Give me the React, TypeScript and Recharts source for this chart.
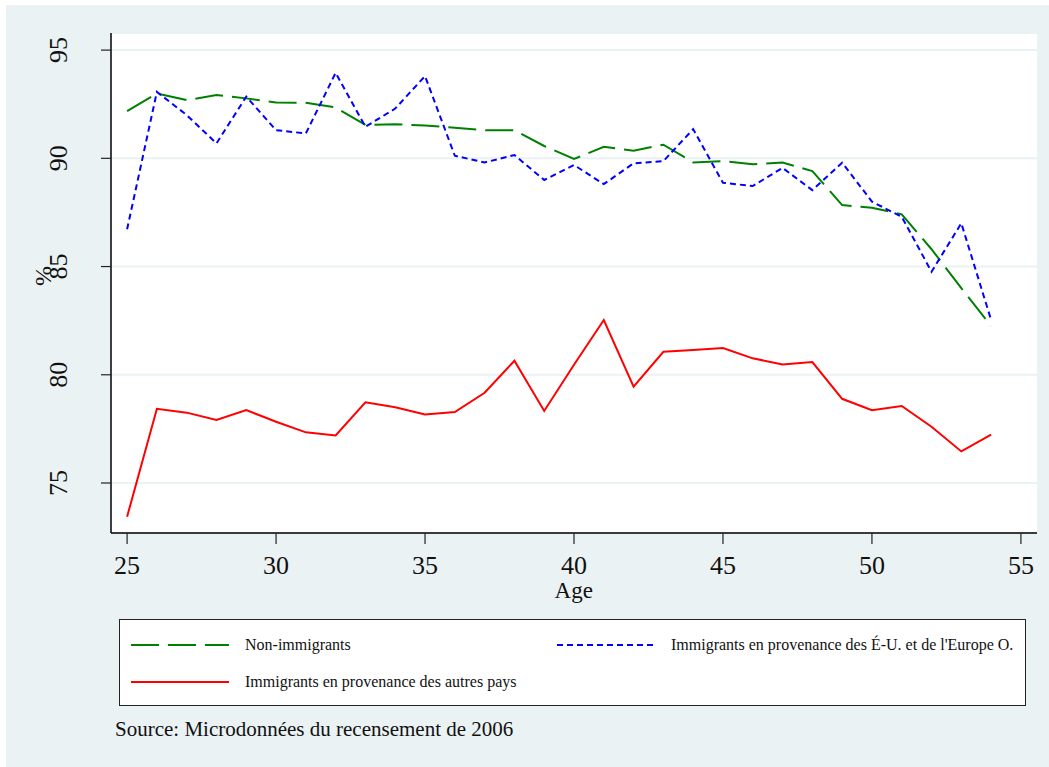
import React from 'react';
import { LineChart, Line, XAxis, YAxis, CartesianGrid } from 'recharts';

// age on x
const ages = [25, 26, 27, 28, 29, 30, 31, 32, 33, 34, 35, 36, 37, 38, 39, 40, 41, 42, 43, 44, 45, 46, 47, 48, 49, 50, 51, 52, 53, 54];

const nonImmigrants = [92.18, 93.0, 92.69, 92.92, 92.77, 92.58, 92.57, 92.35, 91.54, 91.57, 91.52, 91.41, 91.3, 91.3, 90.57, 89.97, 90.53, 90.35, 90.63, 89.81, 89.87, 89.73, 89.81, 89.41, 87.84, 87.72, 87.41, 85.8, 84.0, 82.25];
const immUsEurope = [86.72, 93.07, 92.0, 90.69, 92.85, 91.3, 91.15, 93.95, 91.46, 92.3, 93.8, 90.12, 89.81, 90.15, 89.0, 89.69, 88.81, 89.77, 89.87, 91.35, 88.87, 88.72, 89.56, 88.53, 89.8, 88.0, 87.3, 84.76, 87.0, 82.53];
const immOther = [73.44, 78.43, 78.25, 77.91, 78.37, 77.83, 77.34, 77.2, 78.73, 78.5, 78.17, 78.28, 79.17, 80.65, 78.33, 80.46, 82.53, 79.45, 81.06, 81.14, 81.24, 80.76, 80.48, 80.59, 78.89, 78.36, 78.56, 77.6, 76.46, 77.23];

const xTicks = [25, 30, 35, 40, 45, 50, 55];
const yTicks = [75, 80, 85, 90, 95];

const seriesNames = [
	'Non-immigrants',
	"Immigrants en provenance des É-U. et de l'Europe O.",
	'Immigrants en provenance des autres pays',
];

const data = ages.map((age, i) => ({
	age,
	non: nonImmigrants[i],
	useu: immUsEurope[i],
	other: immOther[i],
}));

const FONT = '"Liberation Serif", "Times New Roman", serif';
const BG = '#EAF2F3';

const YTick = ({ y, payload }: any) => (
	<text x={61} y={y} transform={`rotate(-90 61 ${y})`} textAnchor="middle" fontFamily={FONT} fontSize={26} fill="#111">
		{payload.value}
	</text>
);

const XTick = ({ x, payload }: any) => (
	<text x={x} y={569} textAnchor="middle" fontFamily={FONT} fontSize={26} fill="#111">
		{payload.value}
	</text>
);

const LegendSample = ({ color, dash }: { color: string; dash?: string }) => (
	<svg width={98} height={6} style={{ position: 'absolute', left: 0, top: -3 }}>
		<line x1={0} y1={3} x2={98} y2={3} stroke={color} strokeWidth={2} strokeDasharray={dash} />
	</svg>
);

const LegendItem = ({ left, top, color, dash, text }: { left: number; top: number; color: string; dash?: string; text: string }) => (
	<div style={{ position: 'absolute', left, top }}>
		<LegendSample color={color} dash={dash} />
		<div style={{ position: 'absolute', left: 114, top: -10, whiteSpace: 'nowrap', fontSize: 16, lineHeight: '20px', color: '#111' }}>
			{text}
		</div>
	</div>
);

const App = () => {
	return (
		<div style={{ position: 'absolute', left: 6, top: 5, width: 1043, height: 762, background: BG, fontFamily: FONT }}>
			<LineChart width={1043} height={600} data={data} margin={{ top: 28, right: 12, bottom: 12, left: 0 }}>
				<CartesianGrid vertical={false} stroke={BG} strokeWidth={2} fill="#fff" />
				<XAxis
					dataKey="age"
					type="number"
					domain={[24.46, 55.54]}
					ticks={xTicks}
					allowDataOverflow
					height={60}
					tickSize={11}
					tick={<XTick />}
					axisLine={{ stroke: '#000', strokeWidth: 1.5 }}
					tickLine={{ stroke: '#222', strokeWidth: 1.2 }}
					label={{
						content: () => (
							<text x={567.7} y={593} textAnchor="middle" fontFamily={FONT} fontSize={23} fill="#111">
								Age
							</text>
						),
					}}
				/>
				<YAxis
					type="number"
					domain={[72.69, 95.79]}
					ticks={yTicks}
					allowDataOverflow
					width={105}
					tickSize={10}
					tick={<YTick />}
					axisLine={{ stroke: '#000', strokeWidth: 1.5 }}
					tickLine={{ stroke: '#222', strokeWidth: 1.2 }}
					label={{
						content: () => (
							<text x={45} y={271} transform="rotate(-90 45 271)" textAnchor="middle" fontFamily={FONT} fontSize={24} fill="#111">
								%
							</text>
						),
					}}
				/>
				<Line dataKey="non" type="linear" stroke="#008000" strokeWidth={2} strokeDasharray="28 9" dot={false} isAnimationActive={false} />
				<Line dataKey="useu" type="linear" stroke="#0000ff" strokeWidth={2} strokeDasharray="6 4" dot={false} isAnimationActive={false} />
				<Line dataKey="other" type="linear" stroke="#ff0000" strokeWidth={2} dot={false} isAnimationActive={false} />
			</LineChart>

			<div
				style={{
					position: 'absolute',
					left: 113,
					top: 614,
					width: 907,
					height: 87,
					boxSizing: 'border-box',
					background: '#fff',
					border: '1.5px solid #222',
				}}
			>
				<LegendItem left={11} top={25} color="#008000" dash="28 9" text={seriesNames[0]} />
				<LegendItem left={437} top={25} color="#0000ff" dash="6 4" text={seriesNames[1]} />
				<LegendItem left={11} top={62} color="#ff0000" text={seriesNames[2]} />
			</div>

			<div style={{ position: 'absolute', left: 109, top: 712, fontSize: 21, lineHeight: '25px', color: '#111', whiteSpace: 'nowrap' }}>
				Source: Microdonnées du recensement de 2006
			</div>
		</div>
	);
};

export default App;
